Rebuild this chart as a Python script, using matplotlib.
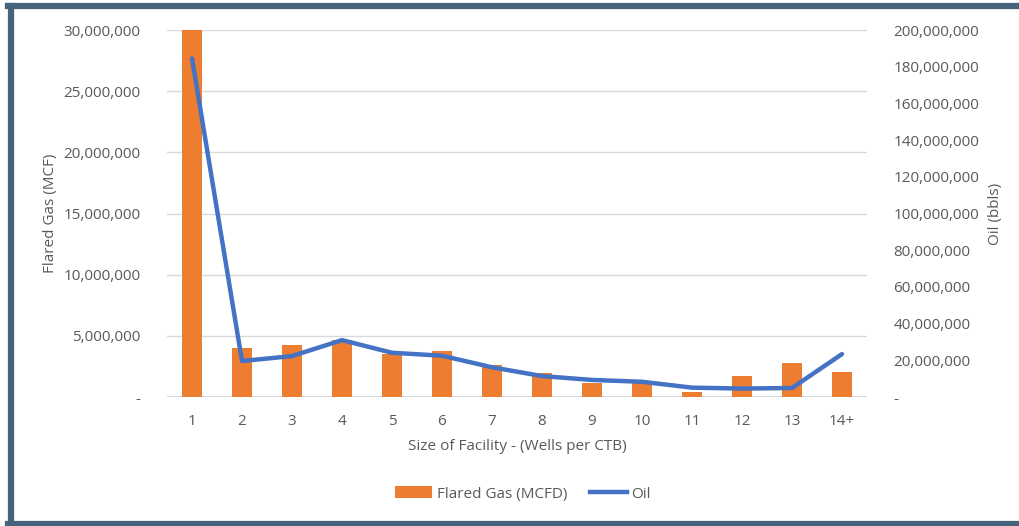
import matplotlib
matplotlib.use("Agg")
import matplotlib.pyplot as plt
from matplotlib.lines import Line2D
from matplotlib.patches import Patch
from matplotlib.ticker import FuncFormatter, MultipleLocator

# Facility size categories (wells per central tank battery)
categories = ["1", "2", "3", "4", "5", "6", "7", "8", "9", "10", "11", "12", "13", "14+"]
flared_gas = [30000000, 4000000, 4250000, 4650000, 3500000, 3750000, 2600000,
              2000000, 1170000, 1200000, 380000, 1720000, 2750000, 2070000]
oil = [184500000, 19600000, 22300000, 31000000, 24100000, 22500000, 16200000,
       11400000, 9300000, 8300000, 5100000, 4600000, 4900000, 23400000]

BAR_COLOR = "#ED7D31"
LINE_COLOR = "#4472C4"
TEXT_COLOR = "#595959"
GRID_COLOR = "#D9D9D9"
FS = 11

plt.rcParams["font.family"] = ["Open Sans", "DejaVu Sans"]

W, H = 1019, 526
fig = plt.figure(figsize=(W / 100, H / 100), dpi=100)
fig.patch.set_facecolor("white")

ax = fig.add_axes([167 / W, 1 - 397 / H, 700 / W, 367 / H])
ax2 = ax.twinx()

x = list(range(len(categories)))
ax.bar(x, flared_gas, width=0.4, color=BAR_COLOR, zorder=2)
ax2.plot(x, oil, color=LINE_COLOR, linewidth=3.2, solid_capstyle="round",
         solid_joinstyle="round", zorder=3)

ax.set_xlim(-0.5, len(categories) - 0.5)
ax.set_ylim(0, 30000000)
ax2.set_ylim(0, 200000000)
ax.yaxis.set_major_locator(MultipleLocator(5000000))
ax2.yaxis.set_major_locator(MultipleLocator(20000000))


def fmt(v, _pos):
    return "-" if v == 0 else f"{int(v):,}"


ax.yaxis.set_major_formatter(FuncFormatter(fmt))
ax2.yaxis.set_major_formatter(FuncFormatter(fmt))

ax.set_xticks(x)
ax.set_xticklabels(categories)

ax.grid(axis="y", color=GRID_COLOR, linewidth=1.0, zorder=0)
ax.set_axisbelow(True)

for a in (ax, ax2):
    for side in ("top", "left", "right", "bottom"):
        a.spines[side].set_visible(False)
    a.tick_params(length=0, colors=TEXT_COLOR, labelsize=FS)
ax.axhline(0, color=GRID_COLOR, linewidth=1.5, zorder=1)
ax.tick_params(axis="y", pad=19)
ax2.tick_params(axis="y", pad=19)
ax.tick_params(axis="x", pad=12)

ax.set_ylabel("Flared Gas (MCF)", color=TEXT_COLOR, fontsize=FS)
ax.yaxis.set_label_coords(-(167 - 58) / 700, 0.5)
ax2.set_ylabel("Oil (bbls)", color=TEXT_COLOR, fontsize=FS)
ax2.yaxis.set_label_coords((988 - 167) / 700, 0.5)
ax.set_xlabel("Size of Facility - (Wells per CTB)", color=TEXT_COLOR, fontsize=FS)
ax.xaxis.set_label_coords(0.5, -(439 - 397) / 367)

handles = [Patch(facecolor=BAR_COLOR, edgecolor="none"),
           Line2D([0], [0], color=LINE_COLOR, linewidth=3.2)]
fig.legend(handles, ["Flared Gas (MCFD)", "Oil"], loc="center",
           bbox_to_anchor=(523 / W, 1 - 494 / H), ncol=2, frameon=False,
           fontsize=FS, labelcolor=TEXT_COLOR, handlelength=2.4,
           handleheight=0.8, handletextpad=0.3, columnspacing=1.5)

# Dark frame around the chart area
FRAME = "#46637C"
fig.add_artist(Line2D([10.5 / W, 10.5 / W], [1 - 5.5 / H, 1 - 523.5 / H],
                      transform=fig.transFigure, color=FRAME, linewidth=4.5))
fig.add_artist(Line2D([8 / W, 1.0], [1 - 5.5 / H, 1 - 5.5 / H],
                      transform=fig.transFigure, color=FRAME, linewidth=4.5))
fig.add_artist(Line2D([8 / W, 1.0], [1 - 523.5 / H, 1 - 523.5 / H],
                      transform=fig.transFigure, color=FRAME, linewidth=4.5))

fig.savefig("out.png", dpi=100, facecolor="white")
